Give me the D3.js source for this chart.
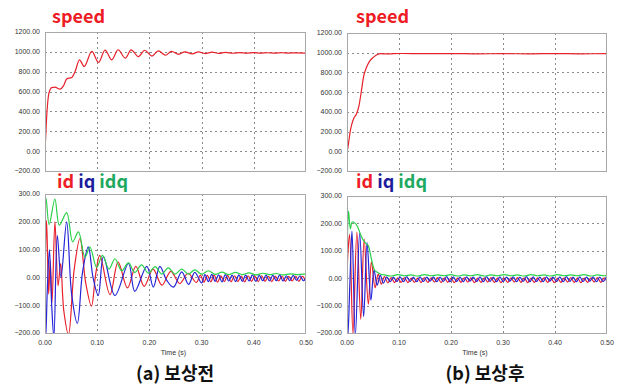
<!DOCTYPE html>
<html>
<head>
<meta charset="utf-8">
<script src="https://cdn.jsdelivr.net/npm/d3@7"></script>
<style>
  body { margin: 0; background: #fff; }
  svg { display: block; }
  .tick { font-family: "Liberation Sans", Arial, sans-serif; font-size: 7px; fill: #333; }
  .title { font-family: "Noto Sans CJK KR", sans-serif; font-weight: bold; font-size: 18px; }
</style>
</head>
<body>
<div id="chart"></div>
<script>
// ---- data (time in s) ----
var speedA = [[0,-15],[0.0032,347],[0.0064,550],[0.0096,617],[0.0128,640],[0.0192,644],[0.0288,624],[0.0353,657],
  [0.0417,728],[0.0513,742],[0.0577,802],[0.066,920],[0.075,853],[0.0897,1004],[0.1026,893],[0.115,1018],[0.128,920],
  [0.14,1021],[0.154,937],[0.165,1020],[0.179,952],[0.191,1016],[0.205,957],[0.217,1010],[0.231,966],[0.242,1005],
  [0.256,975],[0.268,1000],[0.282,980],[0.294,999],[0.307,983],[0.32,997],[0.333,985],[0.346,995],[0.36,986],
  [0.373,993],[0.386,987],[0.4,992],[0.413,987],[0.426,991],[0.44,987],[0.453,991],[0.466,988],[0.48,990],[0.5,988]];

var speedB = [[0,-20],[0.0032,90],[0.0058,190],[0.009,270],[0.0135,340],[0.018,375],[0.023,460],[0.0276,610],
  [0.032,760],[0.037,845],[0.0436,915],[0.051,955],[0.0596,985],[0.064,990],[0.08,988],[0.1,992],[0.15,990],
  [0.2,991],[0.25,989],[0.3,990],[0.35,989],[0.4,991],[0.45,989],[0.5,990]];

var idA = [[0,0],[0.003,205],[0.007,-60],[0.010,60],[0.0135,-90],[0.019,200],[0.025,-30],[0.030,50],[0.036,-120],
  [0.045,-205],[0.056,30],[0.067,140],[0.078,-20],[0.089,-103],[0.097,10],[0.105,79],[0.1245,-62],[0.14,55],
  [0.158,-38],[0.174,40],[0.19,-32],[0.207,30],[0.224,-28],[0.241,22],[0.258,-22],[0.274,15],[0.29,-18],[0.2975,8]];
var idTailA = { t0: 0.3045, dt: 0.0065, v: [-17,7,-16,8,-17,6,-15,7,-16,6,-15,5,-16,6,-14,5,-15,6,-14,4,-15,5,-13,5,-14,4,-13,5,-14,4,-13] };

var iqA = [[0,0],[0.0015,-215],[0.0045,-40],[0.0085,100],[0.0128,-100],[0.017,-215],[0.0236,150],[0.0306,0],
  [0.0415,200],[0.051,-60],[0.062,-165],[0.072,20],[0.083,110],[0.092,0],[0.102,-65],[0.112,75],[0.134,-65],
  [0.16,50],[0.172,-50],[0.195,40],[0.2075,-35],[0.22,40],[0.233,-10],[0.246,-35],[0.262,20],[0.275,-25],[0.287,18]];
var iqTailA = { t0: 0.30, dt: 0.0065, v: [-20,10,-15,11,-14,9,-16,10,-13,8,-15,9,-14,8,-13,9,-14,7,-12,8,-13,7,-12,8,-13,6,-12,7,-11,6,-12,6] };

var idqA = [[0,0],[0.002,285],[0.008,190],[0.019,282],[0.0275,188],[0.0415,233],[0.053,128],[0.064,164],[0.0766,73],
  [0.086,109],[0.099,36],[0.11,79],[0.1226,30],[0.134,67],[0.147,24],[0.16,52],[0.172,18],[0.185,45],[0.198,15],
  [0.211,39],[0.2235,12],[0.236,34],[0.249,12],[0.262,30],[0.2746,12],[0.287,27],[0.30,12],[0.313,24]];
var idqTailA = { t0: 0.326, dt: 0.013, v: [11,19,10,18,10,16,9,15,10,14,9,13,10,12,10] };

var idB = [[0,0],[0.002,100],[0.005,160],[0.0115,-205],[0.019,168],[0.0265,-150],[0.033,143],[0.041,-95],[0.047,60],
  [0.054,-35],[0.06,15],[0.066,-22],[0.072,6]];
var idTailB = { t0: 0.0785, dt: 0.0064, v: [-17,2,-16,1,-15,2,-16,0,-15,1,-16,2,-15,1,-14,2,-16,1,-15,0,-16,1,-15,2,-14,1,-16,0,-15,1,-14,2,-15,1,-16,0,-15,1,-14,2,-15,1,-16,0,-15,1,-14,2,-15,1,-16,0,-15,1,-14,2,-15,1,-16,0,-15,1,-14,2,-15,1,-16] };

var iqB = [[0,0],[0.0018,-210],[0.0055,-20],[0.0096,172],[0.016,-210],[0.0244,165],[0.032,-140],[0.0386,130],
  [0.046,-80],[0.052,30],[0.058,-25],[0.064,10],[0.07,-18]];
var iqTailB = { t0: 0.0765, dt: 0.0064, v: [5,-13,4,-12,5,-13,6,-12,4,-13,5,-12,4,-11,5,-13,4,-12,6,-13,5,-12,4,-13,5,-11,4,-12,5,-13,6,-12,4,-13,5,-12,4,-11,5,-13,4,-12,6,-13,5,-12,4,-13,5,-11,4,-12,5,-13,6,-12,4,-13,5,-12,4,-11,5,-13,4,-12,5] };

var idqB = [[0,30],[0.0015,200],[0.003,245],[0.0065,180],[0.010,205],[0.016,200],[0.021,185],[0.026,160],[0.031,140],
  [0.036,128],[0.041,118],[0.047,70],[0.053,30],[0.058,22],[0.065,14]];
var idqTailB = { t0: 0.072, dt: 0.0128, v: [12,8,13,9,12,8,13,9,12,9,13,8,12,9,13,8,12,9,13,9,12,8,13,9,12,8,13,9,12,9,13,8,12,9,13] };

var speedTicks = [-200, 0, 200, 400, 600, 800, 1000, 1200];
var currentTicks = [-200, -100, 0, 100, 200, 300];
var timeTicks = [0, 0.1, 0.2, 0.3, 0.4, 0.5];
var captions = ["(a) 보상전", "(b) 보상후"];

var RED = "#e8202a", BLUE = "#2424d8", GREEN = "#2ad04a";

function withTail(head, tail) {
  return head.concat(tail.v.map(function(v, i) { return [tail.t0 + i * tail.dt, v]; }));
}

var svg = d3.select("#chart").append("svg").attr("width", 619).attr("height", 385);
var clipId = 0;

function panel(box, yDomain, yTicks, series, showX, curve) {
  var x = d3.scaleLinear().domain([0, 0.5]).range([box.x0, box.x1]);
  var y = d3.scaleLinear().domain(yDomain).range([box.y1, box.y0]);
  var g = svg.append("g");

  // grid
  g.selectAll(".hg").data(yTicks.slice(1, -1)).enter().append("line")
    .attr("x1", box.x0).attr("x2", box.x1)
    .attr("y1", function(d) { return Math.round(y(d)) + 0.5; })
    .attr("y2", function(d) { return Math.round(y(d)) + 0.5; })
    .attr("stroke", "#8a8a8a").attr("stroke-dasharray", "2,3");
  g.selectAll(".vg").data(timeTicks.slice(1, -1)).enter().append("line")
    .attr("y1", box.y0).attr("y2", box.y1)
    .attr("x1", function(d) { return Math.round(x(d)) + 0.5; })
    .attr("x2", function(d) { return Math.round(x(d)) + 0.5; })
    .attr("stroke", "#8a8a8a").attr("stroke-dasharray", "2,3");

  // y labels
  g.selectAll(".yl").data(yTicks).enter().append("text")
    .attr("class", "tick")
    .attr("x", box.x0 - 5).attr("y", function(d) { return y(d); })
    .attr("dy", "0.35em").attr("text-anchor", "end")
    .text(function(d) { return d3.format(".2f")(d); });

  if (showX) {
    g.selectAll(".xl").data(timeTicks).enter().append("text")
      .attr("class", "tick")
      .attr("x", function(d) { return x(d); }).attr("y", box.y1 + 12)
      .attr("text-anchor", "middle")
      .text(function(d) { return d3.format(".2f")(d); });
    g.append("text").attr("class", "tick")
      .attr("x", (box.x0 + box.x1) / 2 - 2).attr("y", box.y1 + 22)
      .attr("text-anchor", "middle").text("Time (s)");
  }

  var id = "clip" + (clipId++);
  svg.append("clipPath").attr("id", id).append("rect")
    .attr("x", box.x0).attr("y", box.y0).attr("width", box.x1 - box.x0).attr("height", box.y1 - box.y0);

  var line = d3.line().x(function(d) { return x(d[0]); }).y(function(d) { return y(d[1]); }).curve(curve);
  series.forEach(function(s) {
    g.append("path").datum(s.data)
      .attr("clip-path", "url(#" + id + ")")
      .attr("fill", "none").attr("stroke", s.color).attr("stroke-width", 1.2)
      .attr("d", line);
  });

  // frame
  g.append("rect").attr("x", box.x0 + 0.5).attr("y", box.y0 + 0.5)
    .attr("width", box.x1 - box.x0 - 1).attr("height", box.y1 - box.y0)
    .attr("fill", "none").attr("stroke", "#a8a8a8");
}

var boxes = [
  { top: { x0: 45, x1: 306, y0: 32, y1: 171 }, bot: { x0: 45, x1: 306, y0: 194, y1: 333 } },
  { top: { x0: 347, x1: 607, y0: 33, y1: 171 }, bot: { x0: 347, x1: 607, y0: 196, y1: 333 } }
];
var speedSets = [speedA, speedB];
var currentSets = [
  [withTail(idA, idTailA), withTail(iqA, iqTailA), withTail(idqA, idqTailA)],
  [withTail(idB, idTailB), withTail(iqB, iqTailB), withTail(idqB, idqTailB)]
];

boxes.forEach(function(b, i) {
  panel(b.top, [-200, 1200], speedTicks, [{ data: speedSets[i], color: RED }], false, d3.curveMonotoneX);
  panel(b.bot, [-200, 300], currentTicks, [
    { data: currentSets[i][0], color: RED },
    { data: currentSets[i][1], color: BLUE },
    { data: currentSets[i][2], color: GREEN }
  ], true, d3.curveCatmullRom);

  svg.append("text").attr("class", "title").attr("fill", "#ee1c25")
    .attr("x", b.top.x0 + (i === 0 ? 7 : 9)).attr("y", 23).text("speed");

  var lab = svg.append("text").attr("class", "title")
    .attr("x", b.top.x0 + (i === 0 ? 12 : 9)).attr("y", 188);
  lab.append("tspan").attr("fill", "#ee1c25").text("id ");
  lab.append("tspan").attr("fill", "#1c1c9c").text("iq ");
  lab.append("tspan").attr("fill", "#20a860").text("idq");

  svg.append("text").attr("class", "title").attr("font-size", "19px").attr("fill", "#111")
    .attr("x", i === 0 ? 175 : 485).attr("y", 380).attr("text-anchor", "middle")
    .text(captions[i]);
});
</script>
</body>
</html>
